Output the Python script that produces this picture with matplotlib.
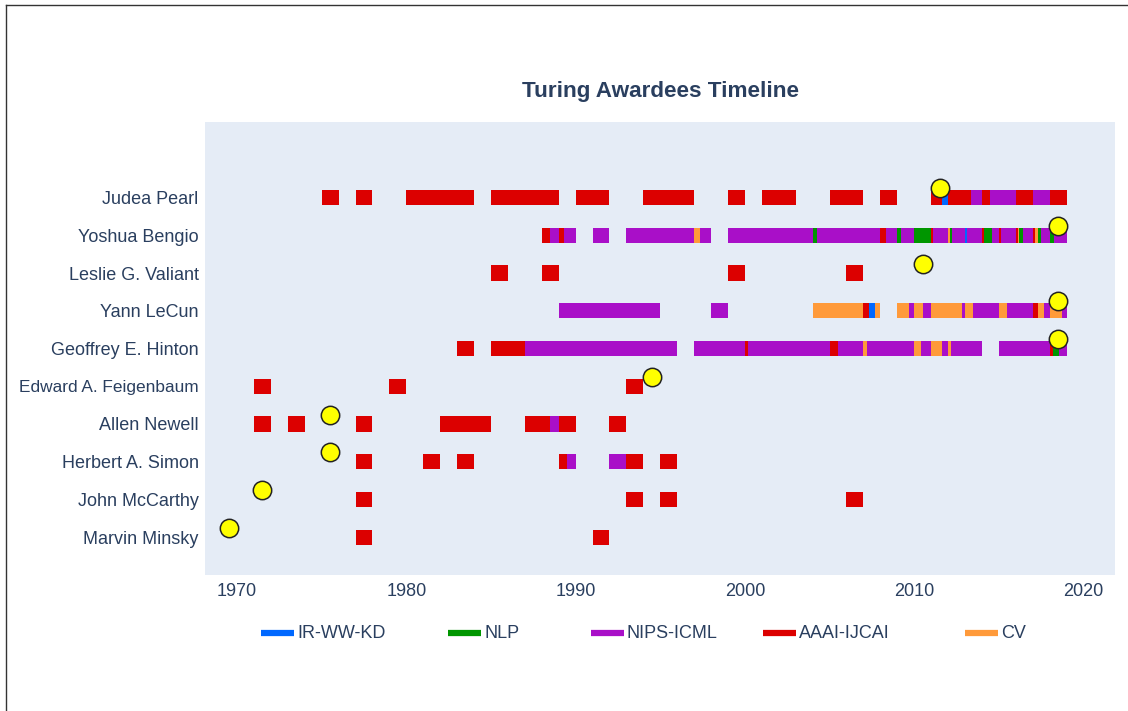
import numpy as np
import matplotlib
matplotlib.use('Agg')
import matplotlib.pyplot as plt
from matplotlib.lines import Line2D

plt.rcParams['font.family'] = ['Liberation Sans', 'DejaVu Sans']

# awardees, bottom row first
people = ['Marvin Minsky', 'John McCarthy', 'Herbert A. Simon', 'Allen Newell',
          'Edward A. Feigenbaum', 'Geoffrey E. Hinton', 'Yann LeCun',
          'Leslie G. Valiant', 'Yoshua Bengio', 'Judea Pearl']
award_year = [1969, 1971, 1975, 1975, 1994, 2018, 2018, 2010, 2018, 2011]

venues = ['IR-WW-KD', 'NLP', 'NIPS-ICML', 'AAAI-IJCAI', 'CV']
venue_codes = ['I', 'L', 'N', 'A', 'C']
venue_colors = ['#0068FF', '#009600', '#A90FC8', '#DC0000', '#FF9A3A']

# year -> venue shares ("A.5 N.5" = half AAAI-IJCAI, half NIPS-ICML)
minsky = {1977: 'A', 1991: 'A'}
mccarthy = {1977: 'A', 1993: 'A', 1995: 'A', 2006: 'A'}
simon = {1977: 'A', 1981: 'A', 1983: 'A', 1989: 'A.5 N.5', 1992: 'N',
         1993: 'A', 1995: 'A'}
newell = {1971: 'A', 1973: 'A', 1977: 'A', 1982: 'A', 1983: 'A', 1984: 'A',
          1987: 'A', 1988: 'A.5 N.5', 1989: 'A', 1992: 'A'}
feigenbaum = {1971: 'A', 1979: 'A', 1993: 'A'}
hinton = {1983: 'A', 1985: 'A', 1986: 'A',
          1987: 'N', 1988: 'N', 1989: 'N', 1990: 'N', 1991: 'N', 1992: 'N',
          1993: 'N', 1994: 'N', 1995: 'N', 1997: 'N', 1998: 'N', 1999: 'N',
          2000: 'A.2 N.8', 2001: 'N', 2002: 'N', 2003: 'N', 2004: 'N',
          2005: 'A.5 N.5', 2006: 'N', 2007: 'C.2 N.8', 2008: 'N', 2009: 'N',
          2010: 'C.4 N.6', 2011: 'C.67 N.33', 2012: 'C.18 N.82', 2013: 'N',
          2015: 'N', 2016: 'N', 2017: 'N', 2018: 'A.2 L.33 N.47'}
lecun = {1989: 'N', 1990: 'N', 1991: 'N', 1992: 'N', 1993: 'N', 1994: 'N',
         1998: 'N', 2004: 'C', 2005: 'C', 2006: 'C', 2007: 'A.33 I.33 C.34',
         2009: 'C.7 N.3', 2010: 'C.5 N.5', 2011: 'C', 2012: 'C.8 N.2',
         2013: 'C.5 N.5', 2014: 'N', 2015: 'C.5 N.5', 2016: 'N',
         2017: 'A.33 C.33 N.34', 2018: 'C.7 N.3'}
valiant = {1985: 'A', 1988: 'A', 1999: 'A', 2006: 'A'}
bengio = {1988: 'A.5 N.5', 1989: 'A.33 N.67', 1991: 'N',
          1993: 'N', 1994: 'N', 1995: 'N', 1996: 'N', 1997: 'C.33 N.67',
          1999: 'N', 2000: 'N', 2001: 'N', 2002: 'N', 2003: 'N',
          2004: 'L.25 N.75', 2005: 'N', 2006: 'N', 2007: 'N',
          2008: 'A.33 N.67', 2009: 'L.2 N.8', 2010: 'L', 2011: 'A.12 N.88',
          2012: 'C.14 L.12 N.74', 2013: 'I.12 N.88', 2014: 'A.1 L.5 N.4',
          2015: 'A.12 N.88', 2016: 'A.12 C.08 L.25 N.55',
          2017: 'A.14 C.2 L.16 N.5', 2018: 'L.25 N.75'}
pearl = {1975: 'A', 1977: 'A', 1980: 'A', 1981: 'A', 1982: 'A', 1983: 'A',
         1985: 'A', 1986: 'A', 1987: 'A', 1988: 'A', 1990: 'A', 1991: 'A',
         1994: 'A', 1995: 'A', 1996: 'A', 1999: 'A', 2001: 'A', 2002: 'A',
         2005: 'A', 2006: 'A', 2008: 'A',
         2011: 'A.67 I.33', 2012: 'A', 2013: 'A.33 N.67', 2014: 'A.5 N.5',
         2015: 'N', 2016: 'A', 2017: 'N', 2018: 'A'}

activity = [minsky, mccarthy, simon, newell, feigenbaum,
            hinton, lecun, valiant, bengio, pearl]

color_of = dict(zip(venue_codes, venue_colors))
text_color = '#2a3f5f'


def shares(spec):
    parts = []
    for tok in spec.split():
        parts.append((tok[0], float(tok[1:]) if len(tok) > 1 else 1.0))
    total = sum(f for _, f in parts)
    return [(c, f / total) for c, f in parts]


def segments(act):
    # split each year by venue share, then join touching pieces of one venue
    segs = []
    for year in sorted(act):
        left = year
        for code, w in shares(act[year]):
            if segs and segs[-1][0] == code and abs(segs[-1][1] + segs[-1][2] - left) < 1e-9:
                segs[-1][2] += w
            else:
                segs.append([code, left, w])
            left += w
    return segs


fig = plt.figure(figsize=(11.28, 7.11), dpi=100)
ax = fig.add_axes([205 / 1128, 1 - 575 / 711, 910 / 1128, 453 / 711])
ax.set_facecolor('#E5ECF6')

for row, act in enumerate(activity):
    for code, left, w in segments(act):
        ax.barh(row, w, left=left, height=0.4, color=color_of[code],
                linewidth=0, zorder=2)

# award year markers
ax.scatter(np.array(award_year) + 0.5, np.arange(len(people)) + 0.25,
           s=175, c='#FFFF00', edgecolors='#222222', linewidths=1.1, zorder=5)

ax.set_xlim(1968.11, 2021.86)
ax.set_ylim(-1, 11)
ax.set_xticks(range(1970, 2021, 10))
ax.set_yticks(range(len(people)))
ax.set_yticklabels(people)
ax.tick_params(axis='y', length=0, pad=4.5, labelsize=13, labelcolor=text_color)
ax.tick_params(axis='x', length=0, pad=6, labelsize=13, labelcolor=text_color)
for lab in ax.get_yticklabels():
    if lab.get_text() == 'Edward A. Feigenbaum':
        lab.set_fontsize(12.4)
for s in ax.spines.values():
    s.set_visible(False)

fig.text(660 / 1128, 1 - 91 / 711, 'Turing Awardees Timeline', ha='center',
         va='center', fontsize=16.2, fontweight='bold', color=text_color)

# legend row under the axis
legend_x = [261, 448, 591, 763, 965]
ly = 1 - 633 / 711
for x0, name, col in zip(legend_x, venues, venue_colors):
    fig.add_artist(Line2D([x0 / 1128, (x0 + 33) / 1128], [ly, ly],
                          transform=fig.transFigure, color=col, lw=4.5,
                          solid_capstyle='butt'))
    fig.text((x0 + 36) / 1128, ly, name, ha='left', va='center',
             fontsize=13, color=text_color)

# frame on the top and left edges
fig.add_artist(Line2D([6 / 1128, 1], [1 - 5 / 711, 1 - 5 / 711],
                      transform=fig.transFigure, color='#333333', lw=1))
fig.add_artist(Line2D([6 / 1128, 6 / 1128], [0, 1 - 5 / 711],
                      transform=fig.transFigure, color='#333333', lw=1))

fig.savefig('out.png', dpi=100)
